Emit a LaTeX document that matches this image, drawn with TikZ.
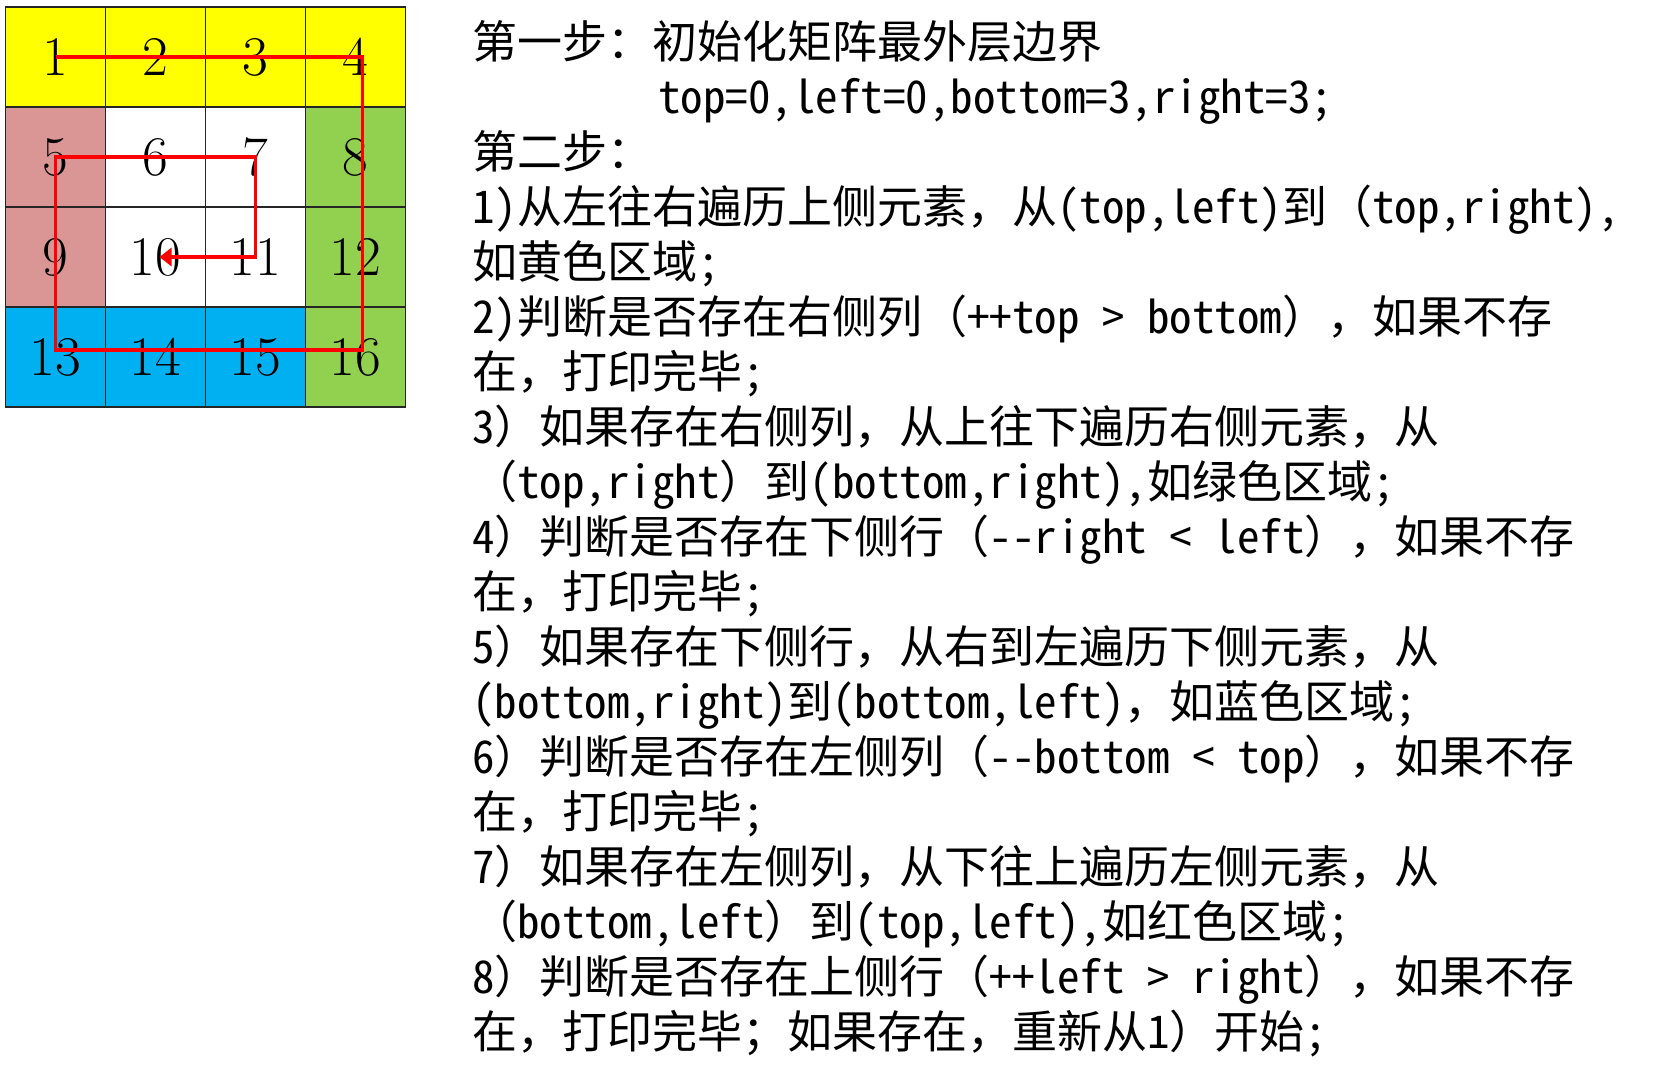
\documentclass[tikz,border=0pt]{standalone}
\usepackage{fontspec}
\newfontfamily\cjk{Noto Sans CJK SC}
\newfontfamily\cjkhw[RawFeature=+hwid]{Noto Sans CJK SC}
\newcommand\hw[1]{{\cjkhw #1}}
\usepackage{xcolor}
\usepackage{tikz}
\usetikzlibrary{positioning,arrows.meta}
\definecolor{spyellow}{HTML}{FFFF00}
\definecolor{sprose}{HTML}{D99694}
\definecolor{spgreen}{HTML}{92D050}
\definecolor{spblue}{HTML}{00B0F0}
\definecolor{spred}{HTML}{FF0000}

\begin{document}
\begin{tikzpicture}[
  x=0.5pt, y=-0.5pt,
  cell/.style={draw=black!85, line width=0.6pt, minimum size=50pt,
    inner sep=0pt, font=\fontsize{28}{28}\selectfont},
  spiral/.style={spred, line width=1.9pt},
  ]
  \useasboundingbox (0,0) rectangle (1674,1066);
  \foreach \n/\fc in {1/spyellow,2/spyellow,3/spyellow,4/spyellow,
    5/sprose,6/white,7/white,8/spgreen,9/sprose,10/white,11/white,12/spgreen,
    13/spblue,14/spblue,15/spblue,16/spgreen}{
    \pgfmathtruncatemacro\row{(\n-1)/4}
    \pgfmathtruncatemacro\clm{mod(\n-1,4)}
    \node[cell, fill=\fc] (c\n) at (55.5+100*\clm, 57+100*\row) {\n};
  }
  \draw[spiral, -{Triangle[length=6pt, width=9pt]}] (c1.center)
    -- ([xshift=3.5pt]c4.center) -- ([shift={(3.5pt,3.5pt)}]c16.center)
    -- ([yshift=3.5pt]c13.center) -- (c5.center) -- (c7.center)
    -- (c11.center) -- ([xshift=2pt]c10.center);
  \node[anchor=north west, inner sep=0pt, align=left,
    font=\cjk\fontsize{22.5}{27.5}\selectfont] (steps) at (472,20)
    {第一步：初始化矩阵最外层边界\\
     \hspace*{93pt}\hw{top=0,left=0,bottom=3,right=3;}\\
     第二步：\\
     \hw{1)}从左往右遍历上侧元素，从\hw{(top,left)}到（\hw{top,right),}\\
     如黄色区域\hw{;}\\
     \hw{2)}判断是否存在右侧列（\hw{++top > bottom}），如果不存\\
     在，打印完毕\hw{;}\\
     \hw{3}）如果存在右侧列，从上往下遍历右侧元素，从\\
     （\hw{top,right}）到\hw{(bottom,right),}如绿色区域\hw{;}\\
     \hw{4}）判断是否存在下侧行（\hw{-{}-right < left}），如果不存\\
     在，打印完毕\hw{;}\\
     \hw{5}）如果存在下侧行，从右到左遍历下侧元素，从\\
     \hw{(bottom,right)}到\hw{(bottom,left)}，如蓝色区域\hw{;}\\
     \hw{6}）判断是否存在左侧列（\hw{-{}-bottom < top}），如果不存\\
     在，打印完毕\hw{;}\\
     \hw{7}）如果存在左侧列，从下往上遍历左侧元素，从\\
     （\hw{bottom,left}）到\hw{(top,left),}如红色区域\hw{;}\\
     \hw{8}）判断是否存在上侧行（\hw{++left > right}），如果不存\\
     在，打印完毕；如果存在，重新从\hw{1}）开始\hw{;}};
\end{tikzpicture}
\end{document}
